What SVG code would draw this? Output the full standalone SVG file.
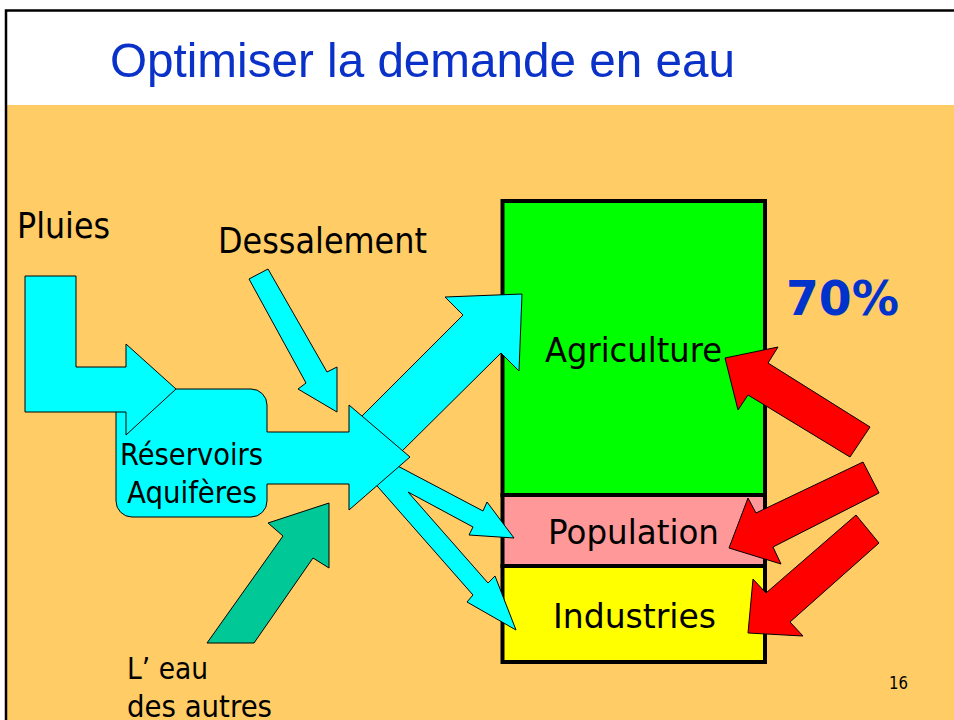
<svg xmlns="http://www.w3.org/2000/svg" width="954" height="720" viewBox="0 0 954 720">
<style>
.lbl{font-family:"DejaVu Sans","Verdana",sans-serif;fill:#000;}
.cy{fill:#00FFFF;stroke:#000;stroke-width:1;stroke-linejoin:miter;}
.red{fill:#FF0000;stroke:#000;stroke-width:1;}
.seg{stroke:#000;stroke-width:4;}
</style>
<rect x="0" y="0" width="954" height="720" fill="#FFFFFF"/>
<rect x="6" y="105" width="948" height="615" fill="#FFCC66"/>
<path d="M6,720 V10.5 H954" fill="none" stroke="#000" stroke-width="2.5"/>
<text x="110" y="77" font-family="Liberation Sans, Arial, sans-serif" font-size="49" fill="#0A32C8" textLength="625" lengthAdjust="spacingAndGlyphs">Optimiser la demande en eau</text>

<g id="stack">
<g id="agriculture">
<rect class="seg" x="502.5" y="201" width="262.5" height="294" fill="#00FF00"/>
<text class="lbl" x="545" y="362" font-size="34" textLength="177" lengthAdjust="spacingAndGlyphs">Agriculture</text>
</g>
<g id="population">
<rect class="seg" x="502.5" y="495" width="262.5" height="71" fill="#FF9999"/>
<text class="lbl" x="548" y="544" font-size="34" textLength="171" lengthAdjust="spacingAndGlyphs">Population</text>
</g>
<g id="industries">
<rect class="seg" x="502.5" y="566" width="262.5" height="96" fill="#FFFF00"/>
<text class="lbl" x="553" y="628" font-size="34" textLength="163" lengthAdjust="spacingAndGlyphs">Industries</text>
</g>
</g>

<g id="reservoirs">
<rect x="116" y="389" width="151" height="128" rx="16" ry="16" fill="#00FFFF" stroke="#000" stroke-width="1"/>
<text class="lbl" x="120" y="465" font-size="30" textLength="143" lengthAdjust="spacingAndGlyphs">Réservoirs</text>
<text class="lbl" x="127" y="503" font-size="30" textLength="130" lengthAdjust="spacingAndGlyphs">Aquifères</text>
</g>

<g id="pluies">
<text class="lbl" x="17" y="238" font-size="36" textLength="93" lengthAdjust="spacingAndGlyphs">Pluies</text>
</g>
<g id="dessalement">
<text class="lbl" x="218" y="253" font-size="36" textLength="209" lengthAdjust="spacingAndGlyphs">Dessalement</text>
</g>
<g id="eau-autres">
<text class="lbl" x="127" y="679" font-size="31" textLength="81" lengthAdjust="spacingAndGlyphs">L’ eau</text>
<text class="lbl" x="127" y="717" font-size="31" textLength="145" lengthAdjust="spacingAndGlyphs">des autres</text>
</g>
<g id="pct">
<text x="786" y="315" font-family="DejaVu Sans, Verdana, sans-serif" font-weight="bold" font-size="48" fill="#0033CC" textLength="113" lengthAdjust="spacingAndGlyphs">70%</text>
</g>
<text class="lbl" x="889" y="689" font-size="18" textLength="19" lengthAdjust="spacingAndGlyphs">16</text>

<g id="connectors">
<polygon class="cy" points="25,276 76,276 76,367 126,367 126,344 176,389 126,435 126,412 25,412"/>
<polygon class="cy" points="249,279 268,269 327,372 337,367 337,412 298,389 306,383"/>
<polygon points="207,643 283,536 268,523 329,503 329,568 313,558 254,643" fill="#00C896" stroke="#000" stroke-width="1"/>
<polygon class="cy" points="360,418 463,315 445,297 522,294 519,371 501,353 395,458"/>
<polygon class="cy" points="392,463 483,511 487,502 514,538 469,535 473,527 408,492 488,583 495,576 516,630 467,602 473,595 378,487 370,478"/>
<polygon points="262,432 349,432 349,405 410,457 349,510 349,484 262,484" fill="#00FFFF"/>
<path d="M267,432 H349 V405 L410,457 L349,510 V484 H267" fill="none" stroke="#000" stroke-width="1"/>
<polygon class="red" points="725,358 778,347 768,363 870,427 850,457 748,395 738,410"/>
<polygon class="red" points="729,548 748,498 756,513 863,462 879,493 773,547 781,564"/>
<polygon class="red" points="748,633 753,579 766,593 856,515 879,543 790,622 803,636"/>
</g>
</svg>
